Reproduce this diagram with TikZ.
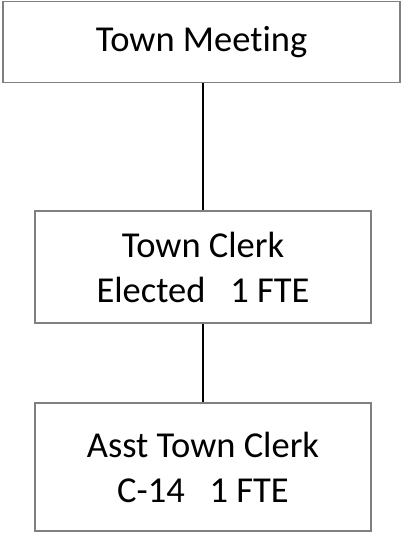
\documentclass[tikz,border=0pt]{standalone}
\usepackage{fontspec}
\setmainfont{Carlito}[Ligatures=NoCommon]
\usepackage{tikz}
\usetikzlibrary{positioning}

\begin{document}
\begin{tikzpicture}[x=1pt, y=1pt]
        \useasboundingbox (0,0) rectangle (401,-533);
        \tikzset{post/.style={draw=gray, line width=1.3pt, rectangle, align=center, font=\fontsize{36.5}{45}\selectfont, inner sep=0pt}}
        \node (meeting) [post, minimum width=397pt, minimum height=81pt] at (201.5,-42) {Town Meeting};
        \node (clerk) [post, minimum width=336pt, minimum height=112pt] at (203,-267) {Town Clerk\\Elected\ \ \ 1 FTE};
        \node (asstclerk) [post, minimum width=336pt, minimum height=128pt] at (203,-467) {Asst Town Clerk\\C-14\ \ \ 1 FTE};

        \draw [line width=1.5pt] (clerk.north |- meeting.south) -- (clerk.north);
        \draw [line width=1.5pt] (clerk) -- (asstclerk);
    \end{tikzpicture}
\end{document}
